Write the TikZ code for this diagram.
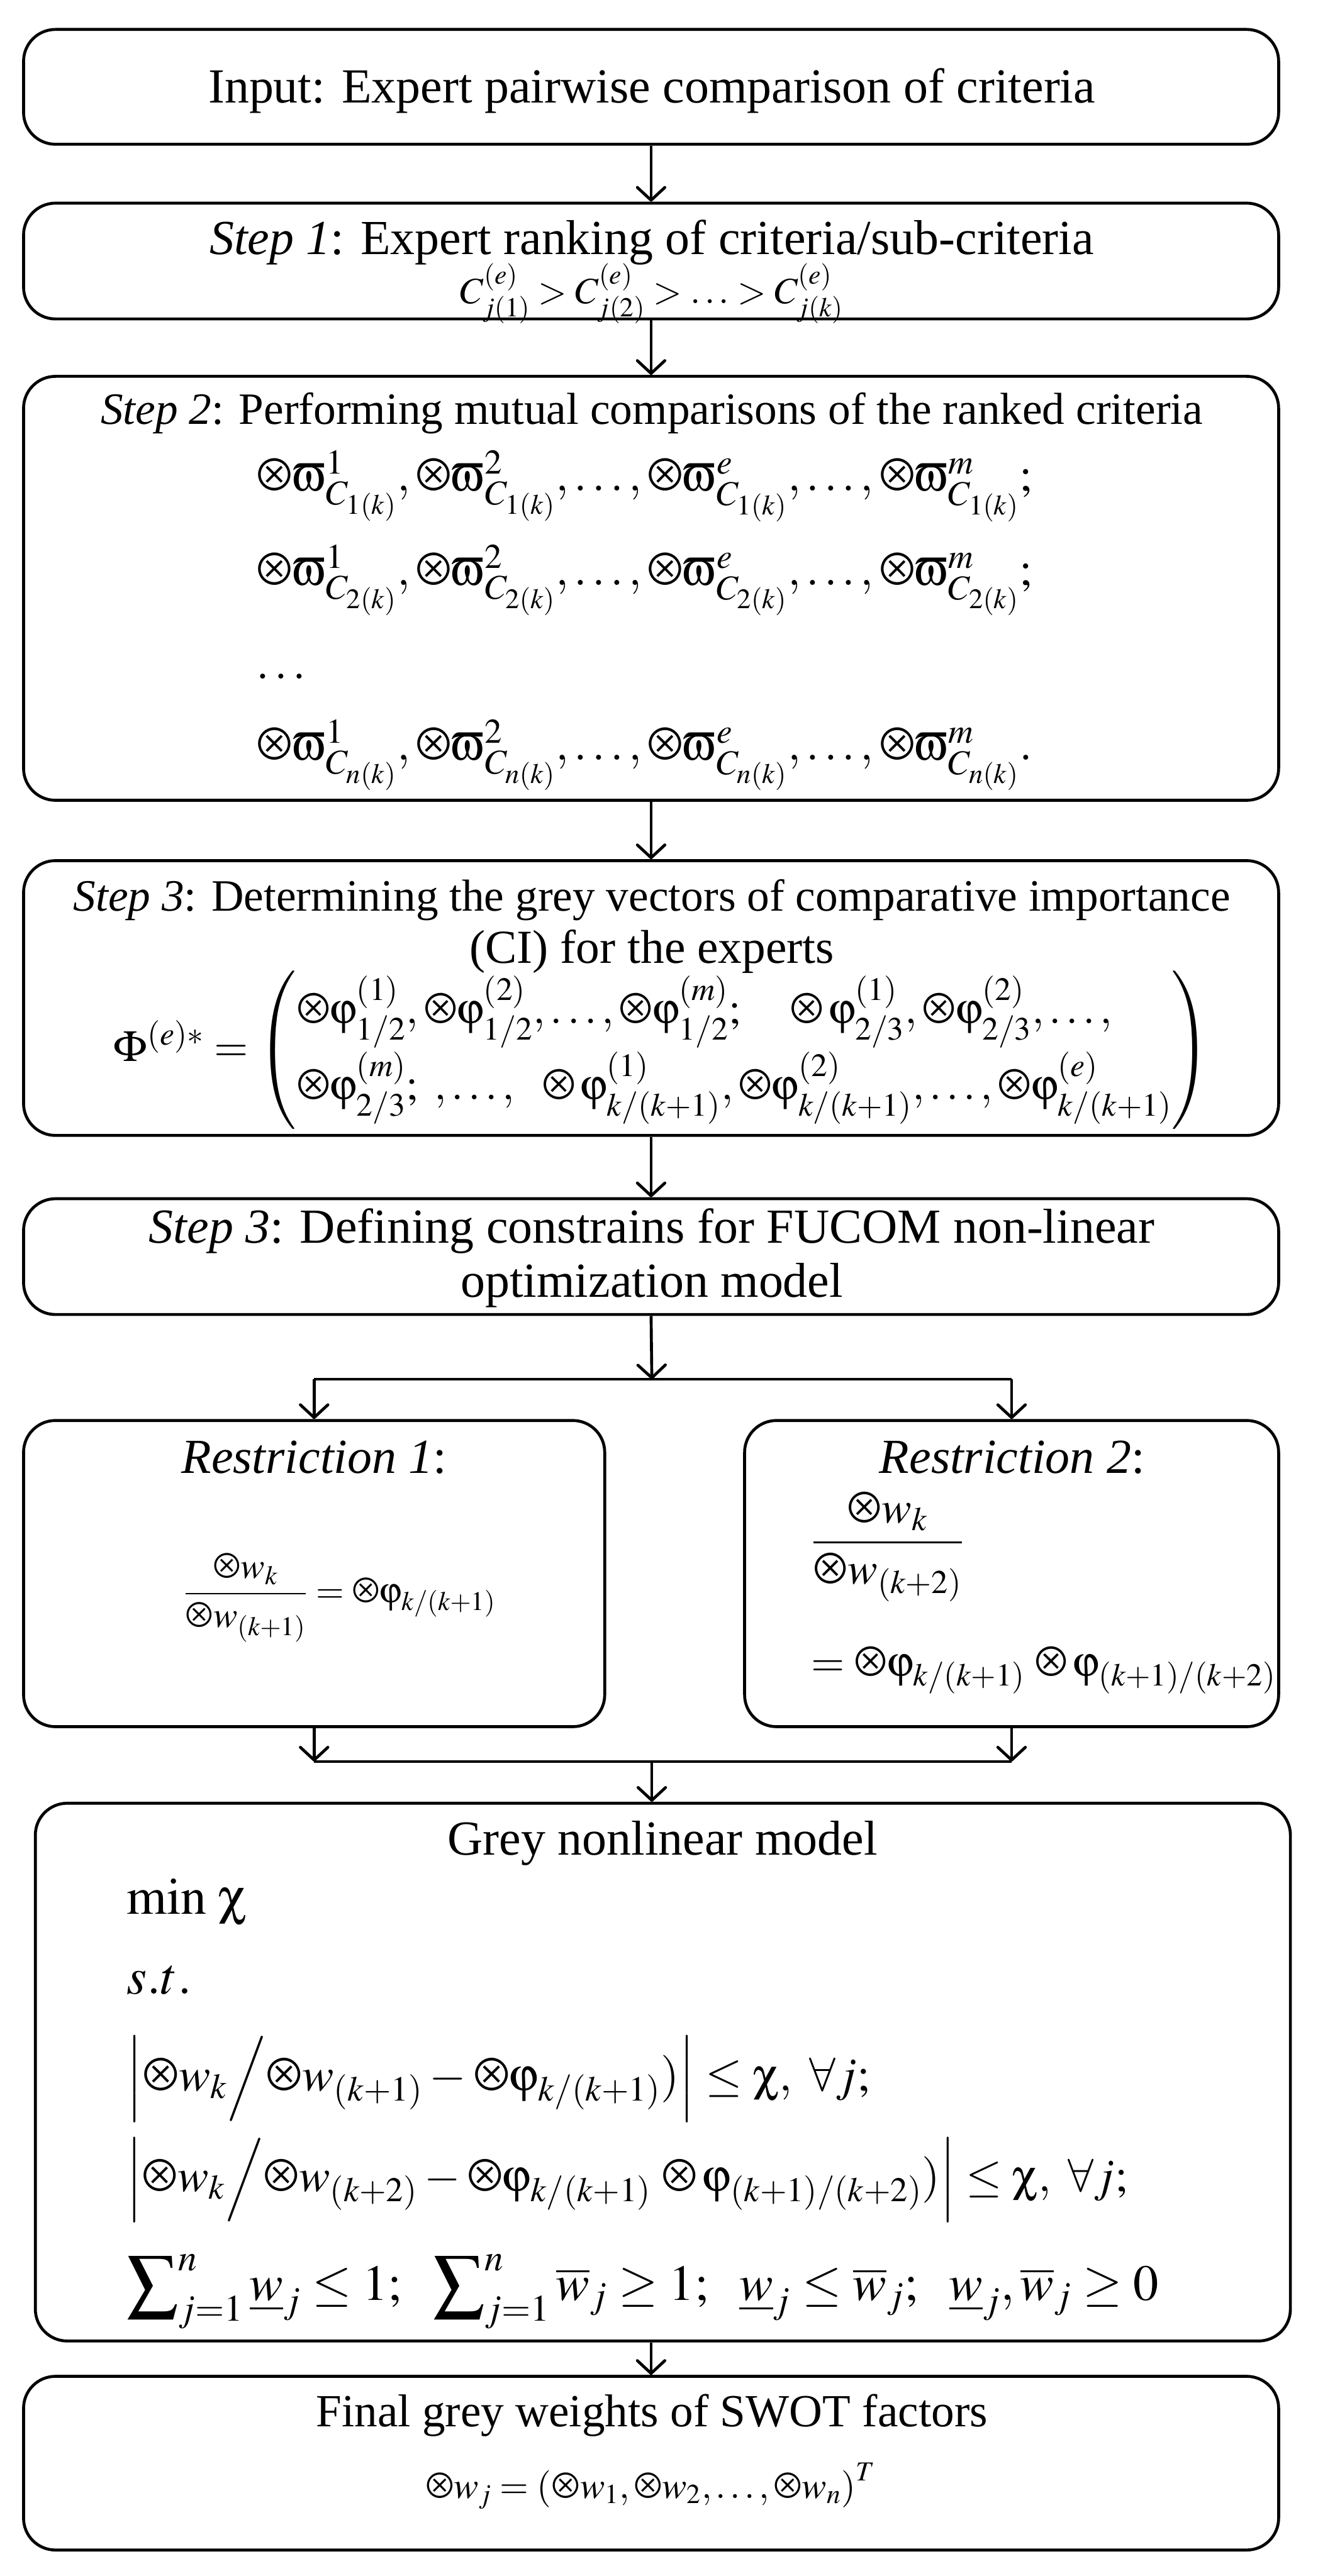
\documentclass[tikz,border=0pt]{standalone}
\usepackage{amsmath}
\usepackage{mathptmx}
\usepackage[no-math]{fontspec}
\setmainfont{Liberation Serif}
\usetikzlibrary{calc}
\usetikzlibrary{arrows.meta}
\DeclareSymbolFont{symbgr}{U}{psy}{m}{n}
\DeclareMathSymbol{\gox}{\mathord}{symbgr}{"C4}
\DeclareMathSymbol{\gphi}{\mathord}{symbgr}{"6A}
\DeclareMathSymbol{\gchi}{\mathord}{symbgr}{"63}
\DeclareMathSymbol{\gvarpi}{\mathord}{symbgr}{"76}
\DeclareMathSymbol{\gPhi}{\mathord}{symbgr}{"46}
\newcommand{\fs}[1]{\fontsize{#1}{1.1\dimexpr#1pt\relax}\selectfont}

\begin{document}
\begin{tikzpicture}[
  stepbox/.style={draw, line width=1.7pt, rounded corners=0.65cm, inner sep=0pt},
  txt/.style={inner sep=0pt, anchor=base, font=\fs{28.4}},
  lft/.style={txt, anchor=base west},
  arr/.style={line width=1.7pt, -{Straight Barb[length=2.6mm, width=5.6mm, round]}},
  ln/.style={line width=1.7pt}]
\def\xc{13.28}
\def\bw{25.57}
\useasboundingbox (0,0) rectangle (26.84,-52.50);
\node[stepbox, minimum width=\bw cm, minimum height=2.34cm] (in) at (13.265,-1.77) {};
\node[stepbox, minimum width=\bw cm, minimum height=2.36cm] (s1) at (13.265,-5.32) {};
\node[stepbox, minimum width=\bw cm, minimum height=8.64cm] (s2) at (13.265,-11.99) {};
\node[stepbox, minimum width=\bw cm, minimum height=5.60cm] (s3) at (13.265,-20.34) {};
\node[stepbox, minimum width=\bw cm, minimum height=2.36cm] (s4) at (13.265,-25.61) {};
\node[stepbox, minimum width=11.84cm, minimum height=6.24cm] (r1) at (6.40,-32.07) {};
\node[stepbox, minimum width=10.88cm, minimum height=6.24cm] (r2) at (20.61,-32.07) {};
\node[stepbox, minimum width=\bw cm, minimum height=10.96cm] (gm) at (13.505,-42.23) {};
\node[stepbox, minimum width=\bw cm, minimum height=3.54cm] (fin) at (13.265,-50.20) {};

\node[txt] (tin) at (\xc,-2.09) {Input: Expert pairwise comparison of criteria};
\node[txt] (ts1) at (\xc,-5.18) {\textit{Step 1}: Expert ranking of criteria/sub-criteria};
\node[txt, font=\fs{21.4}] (fs1) at (\xc,-6.18) {$C_{j(1)}^{(e)}>C_{j(2)}^{(e)}>\ldots>C_{j(k)}^{(e)}$};
\node[txt, font=\fs{26}] (ts2) at (\xc,-8.64) {\textit{Step 2}: Performing mutual comparisons of the ranked criteria};
\node[lft, font=\fs{27.2}] (fa) at (5.22,-10.01) {$\gox\gvarpi^{1}_{C_{1(k)}},\gox\gvarpi^{2}_{C_{1(k)}},\ldots,\gox\gvarpi^{e}_{C_{1(k)}},\ldots,\gox\gvarpi^{m}_{C_{1(k)}};$};
\node[lft, font=\fs{27.2}] (fb) at (5.22,-11.93) {$\gox\gvarpi^{1}_{C_{2(k)}},\gox\gvarpi^{2}_{C_{2(k)}},\ldots,\gox\gvarpi^{e}_{C_{2(k)}},\ldots,\gox\gvarpi^{m}_{C_{2(k)}};$};
\node[lft, font=\fs{27.2}] (fc) at (5.22,-13.83) {$\ldots$};
\node[lft, font=\fs{27.2}] (fd) at (5.22,-15.49) {$\gox\gvarpi^{1}_{C_{n(k)}},\gox\gvarpi^{2}_{C_{n(k)}},\ldots,\gox\gvarpi^{e}_{C_{n(k)}},\ldots,\gox\gvarpi^{m}_{C_{n(k)}}.$};
\node[txt, font=\fs{26}] (ts3a) at (\xc,-18.57) {\textit{Step 3}: Determining the grey vectors of comparative importance};
\node[txt, font=\fs{27.5}] (ts3b) at (\xc,-19.63) {(CI) for the experts};
\node[txt, anchor=west, font=\fs{25.5}] (fphi) at (2.31,-21.40) {$\gPhi^{(e)*}=\left(\begin{array}{@{}l@{}}
  \gox\gphi^{(1)}_{1/2},\gox\gphi^{(2)}_{1/2},\ldots,\gox\gphi^{(m)}_{1/2};\quad\gox\,\gphi^{(1)}_{2/3},\gox\gphi^{(2)}_{2/3},\ldots,\\[8pt]
  \gox\gphi^{(m)}_{2/3};\ ,\ldots,\ \ \gox\,\gphi^{(1)}_{k/(k+1)},\gox\gphi^{(2)}_{k/(k+1)},\ldots,\gox\gphi^{(e)}_{k/(k+1)}
  \end{array}\right)$};
\node[txt] (ts4a) at (\xc,-25.33) {\textit{Step 3}: Defining constrains for FUCOM non-linear};
\node[txt] (ts4b) at (\xc,-26.43) {optimization model};
\node[txt] (tr1) at (6.40,-30.02) {\textit{Restriction 1}:};
\node[txt, anchor=west, font=\fs{21}] (fr1) at (3.73,-32.56) {$\dfrac{\gox w_k}{\gox w_{(k+1)}}=\gox\gphi_{k/(k+1)}$};
\node[txt] (tr2) at (20.62,-30.02) {\textit{Restriction 2}:};
\node[txt, anchor=west, font=\fs{26}] (fr2a) at (16.52,-31.53) {$\dfrac{\gox w_k}{\gox w_{(k+2)}}$};
\node[lft, font=\fs{25}] (fr2b) at (16.52,-34.17) {$=\gox\gphi_{k/(k+1)}\;\gox\,\gphi_{(k+1)/(k+2)}$};
\node[txt] (tgm) at (13.50,-37.81) {Grey nonlinear model};
\node[lft, font=\fs{30}] (g1) at (2.57,-39.01) {$\min\,\gchi$};
\node[lft, font=\fs{30}] (g2) at (2.57,-40.64) {$s.t.$};
\node[lft, font=\fs{27.5}] (g3) at (2.57,-42.61) {$\Bigl|\gox w_k\Big/\gox w_{(k+1)}-\gox\gphi_{k/(k+1)})\Bigr|\le\gchi,\ \forall j;$};
\node[lft, font=\fs{27}] (g4) at (2.57,-44.66) {$\Bigl|\gox w_k\Big/\gox w_{(k+2)}-\gox\gphi_{k/(k+1)}\;\gox\,\gphi_{(k+1)/(k+2)})\Bigr|\le\gchi,\ \forall j;$};
\node[lft, font=\fs{29.3}] (g5) at (2.57,-46.88) {$\displaystyle\sum\nolimits_{j=1}^{n}\underline{w}_j\le1;\ \ \sum\nolimits_{j=1}^{n}\overline{w}_j\ge1;\ \ \underline{w}_j\le\overline{w}_j;\ \ \underline{w}_j,\overline{w}_j\ge0$};
\node[txt, font=\fs{26.7}] (tfin) at (\xc,-49.45) {Final grey weights of SWOT factors};
\node[txt, font=\fs{21.5}] (ffin) at (13.25,-50.91) {$\gox w_j=\left(\gox w_1,\gox w_2,\ldots,\gox w_n\right)^T$};

\draw[arr] (in.south) -- (s1.north);
\draw[arr] (s1.south) -- (s2.north);
\draw[arr] (s2.south) -- (s3.north);
\draw[arr] (s3.south) -- (s4.north);
\coordinate (spl) at (\xc,-28.11);
\coordinate (splL) at (r1.north |- spl);
\coordinate (splR) at (r2.north |- spl);
\draw[arr] (s4.south) -- (spl);
\draw[ln] (splL) -- (splR);
\draw[arr] (splL) -- (r1.north);
\draw[arr] (splR) -- (r2.north);
\coordinate (jn) at (\xc,-35.90);
\coordinate (jnL) at (r1.south |- jn);
\coordinate (jnR) at (r2.south |- jn);
\draw[arr] (r1.south) -- (jnL);
\draw[arr] (r2.south) -- (jnR);
\draw[ln] (jnL) -- (jnR);
\draw[arr] (jn) -- (jn |- gm.north);
\draw[arr] (fin.north |- gm.south) -- (fin.north);
\end{tikzpicture}
\end{document}
